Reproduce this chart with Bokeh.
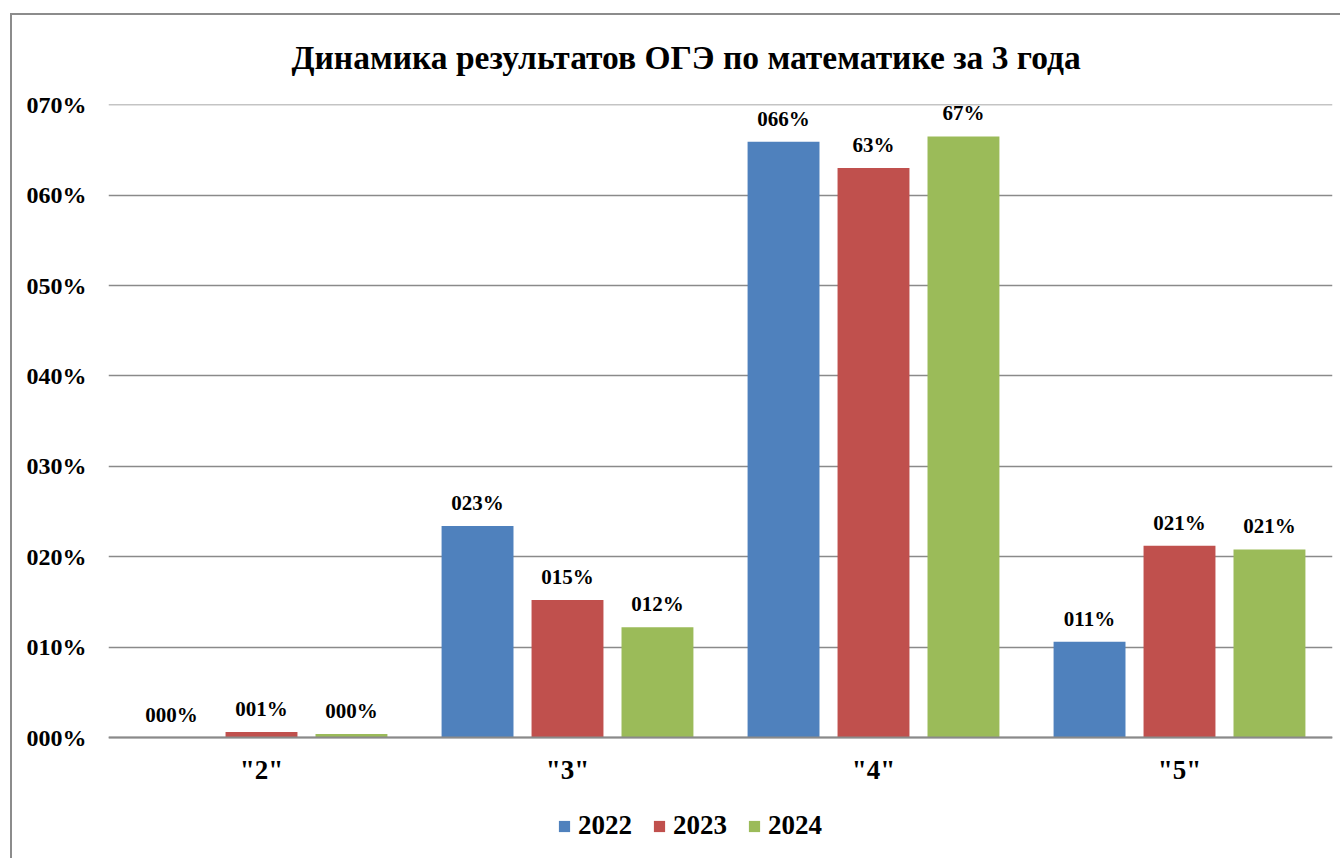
from bokeh.plotting import figure
from bokeh.models import (ColumnDataSource, FactorRange, Range1d, FixedTicker, Legend, LegendItem,
                          Title, InlineStyleSheet)
from bokeh.transform import dodge
from bokeh.core.properties import value
from bokeh.embed import file_html
from bokeh.resources import INLINE

categories = ['"2"', '"3"', '"4"', '"5"']
series_names = ["2022", "2023", "2024"]
v2022 = [0.0, 23.4, 65.9, 10.6]
v2023 = [0.6, 15.2, 63.0, 21.2]
v2024 = [0.4, 12.2, 66.5, 20.8]
l2022 = ["000%", "023%", "066%", "011%"]
l2023 = ["001%", "015%", "63%", "021%"]
l2024 = ["000%", "012%", "67%", "021%"]
y_ticks = [0, 10, 20, 30, 40, 50, 60, 70]
y_tick_labels = ["000%", "010%", "020%", "030%", "040%", "050%", "060%", "070%"]
colors = ["#4F81BD", "#C0504D", "#9BBB59"]

FONT = "Liberation Serif"

src = ColumnDataSource(dict(cat=categories, v2022=v2022, v2023=v2023, v2024=v2024,
                            l2022=l2022, l2023=l2023, l2024=l2024))

# frame spans the full lower part so the legend can sit inside it, below the zero line
y_top = 70.03
y_bottom = -y_top * 113.0 / 633.0

p = figure(width=1340, height=858, x_range=FactorRange(*categories, range_padding=0),
           y_range=Range1d(y_bottom, y_top), output_backend="svg", toolbar_location=None,
           min_border_left=108, min_border_right=8, min_border_top=104, min_border_bottom=8)
p.outline_line_color = None
p.background_fill_color = "white"
p.border_fill_color = "white"
p.stylesheets = [InlineStyleSheet(css=(
    ":host { position: relative; }"
    ":host::after { content: ''; position: absolute; left: 10px; top: 13px; right: 0; bottom: 0;"
    " border-left: 2px solid #8c8c8c; border-top: 2px solid #8c8c8c; pointer-events: none; }"
))]

title = Title(text="Динамика результатов ОГЭ по математике за 3 года", align="left",
              offset=183, text_font=FONT, text_font_size="33.5px", text_font_style="bold",
              text_color="black", standoff=57)
p.add_layout(title, "above")

offsets = [-0.294, 0.0, 0.294]
keys = ["v2022", "v2023", "v2024"]
lkeys = ["l2022", "l2023", "l2024"]
items = []
for k, lk, off, c, name in zip(keys, lkeys, offsets, colors, series_names):
    r = p.vbar(x=dodge("cat", off, range=p.x_range), top=k, bottom=0, width=0.235, source=src,
               fill_color=c, line_color=None)
    p.text(x=dodge("cat", off, range=p.x_range), y=k, text=lk, source=src,
           text_align="center", text_baseline="alphabetic", y_offset=-23,
           text_font=value(FONT), text_font_size="21px", text_font_style="bold",
           text_color="black")
    items.append(LegendItem(label=name, renderers=[r]))

# axes
p.yaxis.ticker = FixedTicker(ticks=y_ticks)
p.yaxis.major_label_overrides = {t: s for t, s in zip(y_ticks, y_tick_labels)}
p.yaxis.axis_line_color = None
p.yaxis.major_tick_line_color = None
p.yaxis.minor_tick_line_color = None
p.yaxis.major_tick_out = 0
p.yaxis.major_tick_in = 0
p.yaxis.major_label_standoff = 22
p.yaxis.major_label_text_font = FONT
p.yaxis.major_label_text_font_size = "24px"
p.yaxis.major_label_text_font_style = "bold"
p.yaxis.major_label_text_color = "black"

p.xaxis.fixed_location = 0
p.xaxis.axis_line_color = "#8a8a8a"
p.xaxis.axis_line_width = 2
p.xaxis.major_tick_line_color = None
p.xaxis.minor_tick_line_color = None
p.xaxis.major_tick_out = 0
p.xaxis.major_tick_in = 0
p.xaxis.major_label_standoff = 17
p.xaxis.major_label_text_font = FONT
p.xaxis.major_label_text_font_size = "27px"
p.xaxis.major_label_text_font_style = "bold"
p.xaxis.major_label_text_color = "black"

p.xgrid.grid_line_color = None
p.ygrid.grid_line_color = "#8a8a8a"
p.ygrid.grid_line_width = 1.5

legend = Legend(items=items, orientation="horizontal", location=(449, 9),
                glyph_width=14, glyph_height=14, label_standoff=7, spacing=20,
                padding=0, margin=0, border_line_color=None, background_fill_alpha=0,
                label_text_font=FONT, label_text_font_size="27px",
                label_text_font_style="bold", label_text_color="black")
p.add_layout(legend, "center")

open("out.html", "w").write(file_html(p, INLINE))
